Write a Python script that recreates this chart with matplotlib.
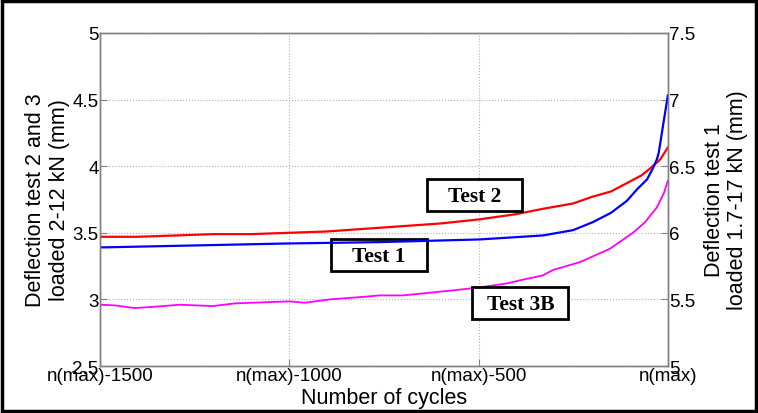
import matplotlib.pyplot as plt
from matplotlib.patches import Rectangle

plt.rcParams['font.family'] = ['Liberation Sans', 'DejaVu Sans']

# cycles relative to n(max)
red_x = [-1500, -1400, -1300, -1200, -1100, -1000, -900, -800, -700, -600, -500,
         -400, -330, -250, -200, -150, -110, -70, -48, -20, 0]
red_y = [3.47, 3.47, 3.48, 3.49, 3.49, 3.50, 3.51, 3.53, 3.55, 3.57, 3.60,
         3.64, 3.68, 3.72, 3.77, 3.81, 3.87, 3.93, 3.98, 4.05, 4.14]

blue_x = [-1500, -1000, -761, -497, -330, -250, -198, -150, -108, -80, -55,
          -40, -29, -24, 0]
blue_y = [5.89, 5.92, 5.93, 5.95, 5.98, 6.02, 6.08, 6.15, 6.24, 6.33, 6.40,
          6.48, 6.55, 6.60, 7.03]

mag_x = [-1500, -1460, -1408, -1355, -1289, -1202, -1144, -1050, -998, -959, -893,
         -800, -761, -700, -629, -560, -497, -425, -380, -330, -304, -232, -153,
         -92, -60, -29, -10, 0]
mag_y = [2.96, 2.955, 2.935, 2.945, 2.96, 2.95, 2.97, 2.98, 2.985, 2.975, 3.00,
         3.02, 3.03, 3.03, 3.05, 3.07, 3.09, 3.12, 3.15, 3.18, 3.22, 3.28, 3.38,
         3.50, 3.58, 3.69, 3.80, 3.89]

xticks = [-1500, -1000, -500, 0]
xticklabels = ['n(max)-1500', 'n(max)-1000', 'n(max)-500', 'n(max)']

fig = plt.figure(figsize=(7.58, 4.14), dpi=100)
ax = fig.add_axes([0.132, 0.1135, 0.749, 0.8045])
ax2 = ax.twinx()

ax.plot(red_x, red_y, color='red', linewidth=1.6)
ax.plot(mag_x, mag_y, color='magenta', linewidth=1.3)
ax2.plot(blue_x, blue_y, color='blue', linewidth=1.6)

ax.set_xlim(-1500, 0)
ax.set_ylim(2.5, 5)
ax2.set_ylim(5, 7.5)
ax.set_xticks(xticks)
ax.set_xticklabels(xticklabels)
ax.set_yticks([2.5, 3, 3.5, 4, 4.5, 5])
ax.set_yticklabels(['2.5', '3', '3.5', '4', '4.5', '5'])
ax2.set_yticks([5, 5.5, 6, 6.5, 7, 7.5])
ax2.set_yticklabels(['5', '5.5', '6', '6.5', '7', '7.5'])

ax.grid(True, linestyle=':', color='#b0b0b0', linewidth=0.8)
for a in (ax, ax2):
    for s in a.spines.values():
        s.set_color('#808080')
        s.set_linewidth(1.0)
    a.tick_params(direction='in', color='#808080', labelsize=13.5, length=5, pad=1)

ax.set_xlabel('Number of cycles', fontsize=15.5, labelpad=2)
ax.set_ylabel('Deflection test 2 and 3\nloaded 2-12 kN (mm)', fontsize=15.5, linespacing=1.15, labelpad=2)
ax2.set_ylabel('Deflection test 1\nloaded 1.7-17 kN (mm)', fontsize=15.5, linespacing=1.15, labelpad=6)

# boxed labels (axes fraction coordinates)
boxes = [('Test 2', 0.575, 0.465), ('Test 1', 0.406, 0.285), ('Test 3B', 0.656, 0.14)]
for txt, bx, by in boxes:
    ax.add_patch(Rectangle((bx, by), 0.169, 0.097, transform=ax.transAxes,
                           facecolor='white', edgecolor='black', linewidth=2, zorder=5))
    ax.text(bx + 0.0845, by + 0.046, txt, transform=ax.transAxes, ha='center', va='center',
            fontsize=15.5, fontweight='bold', family='Liberation Serif', zorder=6)

fig.patches.append(Rectangle((0.003, 0.004), 0.994, 0.992, transform=fig.transFigure,
                             fill=False, edgecolor='black', linewidth=2.5))

fig.savefig('out.png', dpi=100)
